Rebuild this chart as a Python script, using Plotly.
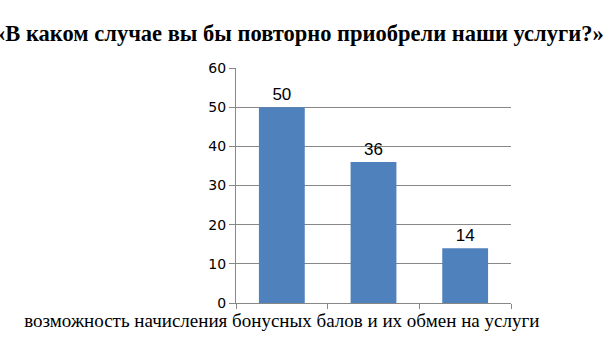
import plotly.graph_objects as go

title_text = "«В каком случае вы бы повторно приобрели наши услуги?»"
categories = ["возможность начисления бонусных балов и их обмен на услуги", " ", "  "]
values = [50, 36, 14]
y_ticks = [0, 10, 20, 30, 40, 50, 60]

grid = "#878787"

fig = go.Figure(go.Bar(
    x=categories, y=values,
    marker=dict(color="#4F81BD", line=dict(width=0)),
    width=0.5,
    text=[str(v) for v in values], textposition="outside",
    textfont=dict(family="Liberation Sans", size=17, color="#000000"),
    cliponaxis=False,
))

fig.update_layout(
    width=605, height=340,
    margin=dict(l=236, r=94, t=68, b=37, autoexpand=False),
    paper_bgcolor="white", plot_bgcolor="white",
    showlegend=False,
    title=dict(text="<b>" + title_text + "</b>", x=0.494, xanchor="center",
               y=0.903, yanchor="middle",
               font=dict(family="Liberation Serif", size=22.5, color="#000000")),
    xaxis=dict(
        type="category", categoryorder="array", categoryarray=categories,
        tickson="boundaries", ticks="outside", ticklen=5, tickcolor=grid,
        showline=True, linecolor=grid, linewidth=1,
        tickangle=0, showgrid=False, automargin=False,
        tickfont=dict(family="Liberation Serif", size=19, color="#000000"),
    ),
    yaxis=dict(
        range=[0, 60], tickvals=y_ticks, ticks="outside", ticklen=6, tickcolor=grid,
        showline=True, linecolor=grid, linewidth=1, automargin=False,
        showgrid=True, gridcolor=grid, gridwidth=1, zeroline=False,
        tickfont=dict(family="DejaVu Sans", size=14, color="#000000"),
    ),
)

fig.write_html("out.html")
